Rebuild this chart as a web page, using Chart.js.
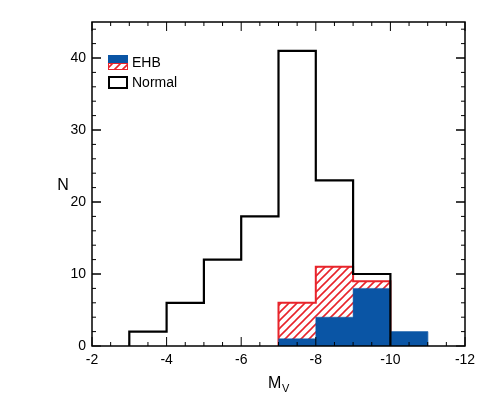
<!DOCTYPE html><html><head><style>html,body{margin:0;background:#fff}</style>
<script src="https://cdn.jsdelivr.net/npm/chart.js@4"></script></head><body>
<div style="width:494px;height:404px"><canvas id="c"></canvas></div>
<script>
const binEdges=[-3,-4,-5,-6,-7,-8,-9,-10,-11];
const normalCounts=[2,6,12,18,41,23,10,0];
const ehbTotal=[0,0,0,0,6,11,9,0];
const ehbBlue=[0,0,0,0,1,4,8,2];
const xTicks=[-2,-4,-6,-8,-10,-12];
const yTicks=[0,10,20,30,40];
function steps(counts){const p=[];let started=false;
 for(let i=0;i<counts.length;i++){const a=binEdges[i],b=binEdges[i+1];
  if(!started&&counts[i]===0)continue;
  if(started&&counts[i]===0)break;
  if(!started){p.push({x:a,y:0});started=true;}
  p.push({x:a,y:counts[i]});p.push({x:b,y:counts[i]});}
 p.push({x:p[p.length-1].x,y:0});return p;}
const pc=document.createElement('canvas');pc.width=8;pc.height=8;const g=pc.getContext('2d');
g.fillStyle='#fff';g.fillRect(0,0,8,8);g.strokeStyle='#e8242b';g.lineWidth=1.6;
g.beginPath();g.moveTo(0,8);g.lineTo(8,0);g.moveTo(-2,2);g.lineTo(2,-2);g.moveTo(6,10);g.lineTo(10,6);g.stroke();
const pattern=g.createPattern(pc,'repeat');
const deco={id:'deco',afterDraw(ch){const c=ch.ctx,a=ch.chartArea,xs=ch.scales.x,ys=ch.scales.y;
 c.save();c.strokeStyle='#000';c.lineWidth=1.5;c.strokeRect(a.left,a.top,a.right-a.left,a.bottom-a.top);
 c.lineWidth=1;c.beginPath();
 for(let v=-2;v>=-12;v-=0.5){const x=xs.getPixelForValue(v);const L=(v%2===0)?9:4;
  c.moveTo(x,a.bottom);c.lineTo(x,a.bottom-L);c.moveTo(x,a.top);c.lineTo(x,a.top+L);}
 for(let v=0;v<=45;v+=2){const y=ys.getPixelForValue(v);const L=(v%10===0)?9:4;
  c.moveTo(a.left,y);c.lineTo(a.left+L,y);c.moveTo(a.right,y);c.lineTo(a.right-L,y);}
 for(let v=10;v<=40;v+=10){const y=ys.getPixelForValue(v);c.moveTo(a.left,y);c.lineTo(a.left+9,y);c.moveTo(a.right,y);c.lineTo(a.right-9,y);}
 c.stroke();
 c.fillStyle='#000';c.font='14px "Liberation Sans"';c.textAlign='center';c.textBaseline='top';
 xTicks.forEach(v=>c.fillText(String(v),xs.getPixelForValue(v),a.bottom+7));
 c.textAlign='right';c.textBaseline='middle';
 yTicks.forEach(v=>c.fillText(String(v),a.left-6,ys.getPixelForValue(v)));
 c.font='16px "Liberation Sans"';c.textAlign='center';c.fillText('N',63,186);
 c.textAlign='left';c.textBaseline='alphabetic';c.fillText('M',268,388);c.font='11px "Liberation Sans"';c.fillText('V',282,392);
 c.fillStyle='#0a55a5';c.fillRect(108,55,20,8);c.fillStyle=pattern;c.fillRect(108,63,20,7);
 c.strokeStyle='#e8242b';c.lineWidth=1;c.strokeRect(108.5,63.5,19,6);
 c.strokeStyle='#000';c.lineWidth=2;c.strokeRect(109,77,18,11);
 c.fillStyle='#000';c.font='14px "Liberation Sans"';c.textBaseline='middle';c.fillText('EHB',132,63);c.fillText('Normal',132,83);
 c.restore();}};
new Chart(document.getElementById('c'),{type:'line',data:{datasets:[
 {data:steps(ehbTotal),borderColor:'#e8242b',borderWidth:2,backgroundColor:pattern,fill:'origin',pointRadius:0,tension:0,order:3},
 {data:steps(ehbBlue),borderColor:'#0a55a5',borderWidth:0.5,backgroundColor:'#0a55a5',fill:'origin',pointRadius:0,tension:0,order:2},
 {data:steps(normalCounts),borderColor:'#000',borderWidth:2.2,fill:false,pointRadius:0,tension:0,order:1}]},
 options:{animation:false,responsive:true,maintainAspectRatio:false,devicePixelRatio:1,
  layout:{padding:{left:92,right:29,top:22,bottom:58}},
  plugins:{legend:{display:false},tooltip:{enabled:false},filler:{drawTime:'beforeDatasetDraw'}},
  scales:{x:{type:'linear',min:-12,max:-2,reverse:true,display:false},y:{min:0,max:45,display:false}}},
 plugins:[deco]});
</script></body></html>
